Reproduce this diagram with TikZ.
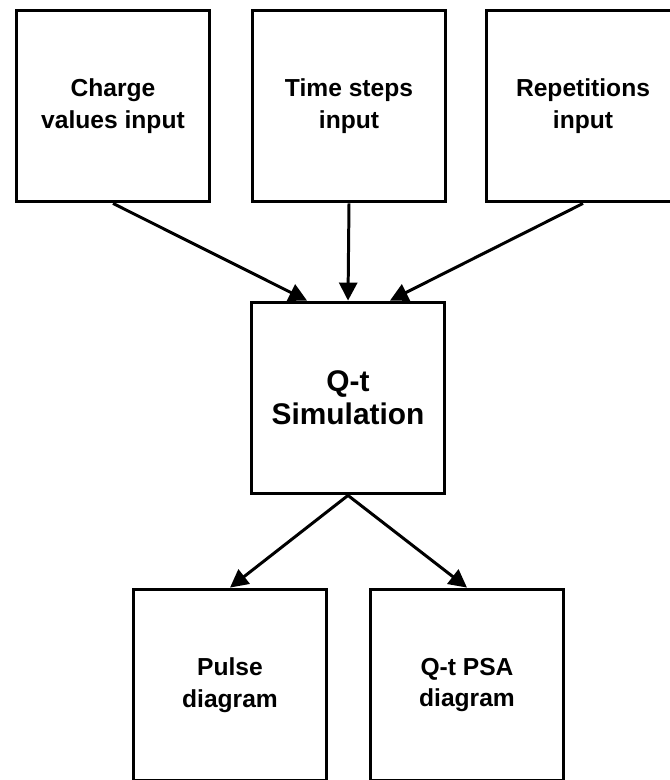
\documentclass[tikz,border=0pt]{standalone}
\usepackage{fontspec}
\setmainfont{Liberation Sans}
\usetikzlibrary{arrows.meta}

\begin{document}
\begin{tikzpicture}[x=0.02cm, y=-0.02cm,
  box/.style={draw, line width=2.2pt, minimum width=3.86cm, minimum height=3.82cm,
    inner sep=0pt, align=center, font=\bfseries\fontsize{14}{18}\selectfont},
  bigbox/.style={box, font=\bfseries\fontsize{17}{19}\selectfont},
  flow/.style={line width=1.7pt, -{Triangle[length=0.36cm, width=0.36cm]}}]
  \useasboundingbox (0,0) rectangle (669,780);
  % inputs
  \node[box] (charge) at (113,106) {Charge\\values input};
  \node[box] (steps) at (349,106) {Time steps\\input};
  \node[box] (reps) at (583,106) {Repetitions\\input};
  % simulation
  \node[bigbox] (sim) at (348,398) {Q-t\\Simulation};
  % outputs
  \node[box] (pulse) at (230,685) {Pulse\\diagram};
  \node[box] (psa) at (467,685) {Q-t PSA\\diagram};
  \draw[flow] (charge.south) -- ([xshift=-0.82cm]sim.north);
  \draw[flow] (steps.south) -- (sim.north);
  \draw[flow] (reps.south) -- ([xshift=0.84cm]sim.north);
  \draw[flow] (sim.south) -- (pulse.north);
  \draw[flow] (sim.south) -- (psa.north);
\end{tikzpicture}
\end{document}
